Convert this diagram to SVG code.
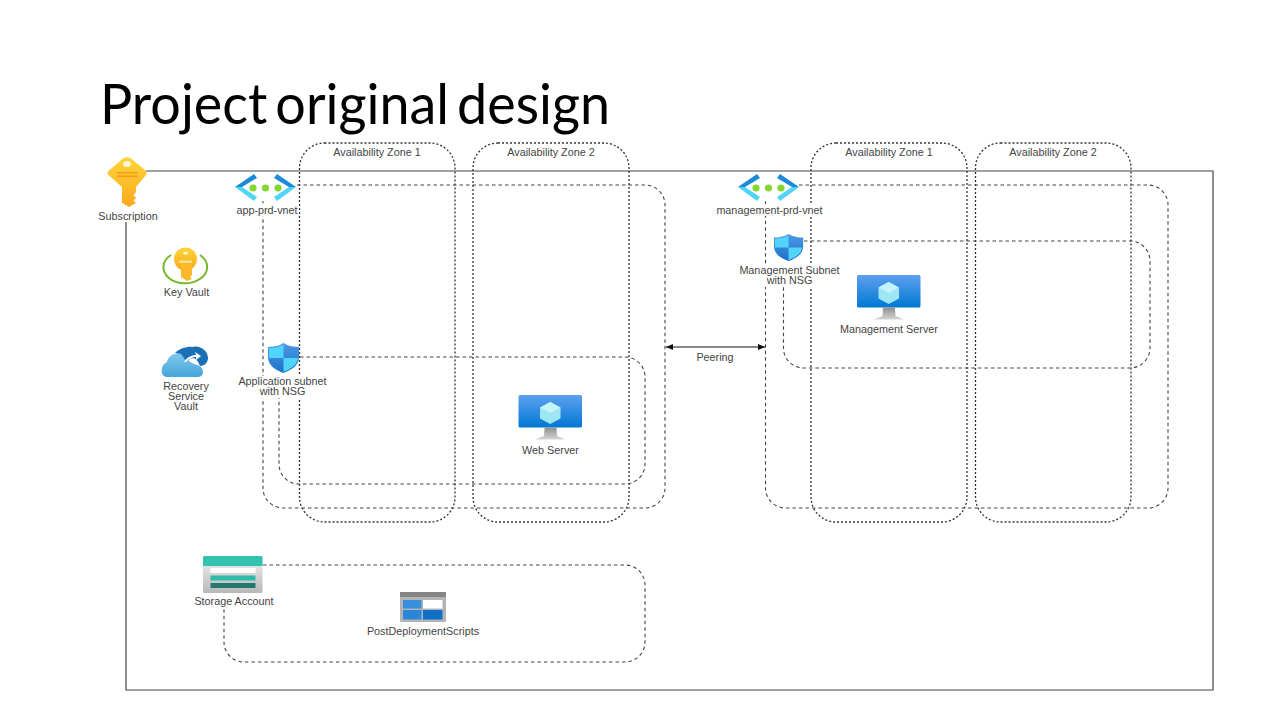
<svg xmlns="http://www.w3.org/2000/svg" width="1280" height="720" viewBox="0 0 1280 720">
<style>
.t{font-family:"Liberation Sans",Arial,sans-serif;font-size:10.8px;fill:#444;text-anchor:middle}
.d{fill:none;stroke:#333;stroke-width:1.300;stroke-dasharray:2 2}
.v{fill:none;stroke:#444;stroke-width:1.100;stroke-dasharray:3.500 3}
.bg{fill:#fff}
</style>
<defs>
<linearGradient id="gold" x1="0" y1="0" x2="0" y2="1"><stop offset="0" stop-color="#fed43a"/><stop offset="1" stop-color="#fba81c"/></linearGradient>
<linearGradient id="mon" x1="0" y1="0" x2="0" y2="1"><stop offset="0" stop-color="#5ea0ef"/><stop offset="1" stop-color="#0078d4"/></linearGradient>
<linearGradient id="stand" x1="0" y1="0" x2="0" y2="1"><stop offset="0" stop-color="#8f8f8f"/><stop offset="1" stop-color="#d5d5d5"/></linearGradient>
<linearGradient id="stor" x1="0" y1="0" x2="0" y2="1"><stop offset="0" stop-color="#f2f2f2"/><stop offset="1" stop-color="#b8b8b8"/></linearGradient>
<linearGradient id="cloud" x1="0" y1="0" x2="0" y2="1"><stop offset="0" stop-color="#7fc8ec"/><stop offset="1" stop-color="#45a5da"/></linearGradient>
<linearGradient id="shield" x1="0" y1="0" x2="0" y2="1"><stop offset="0" stop-color="#4f97e6"/><stop offset="1" stop-color="#1b74c8"/></linearGradient>
<marker id="ah" markerWidth="8" markerHeight="7" refX="7" refY="3.500" orient="auto-start-reverse"><path d="M0 0.500L7 3.500L0 6.500Z" fill="#111"/></marker>
<g id="vnetIcon">
<path d="M0 15L19 2L22 6L7 15Z" fill="#1b8ad8"/>
<path d="M0 15L7 15L22 25L19 29Z" fill="#50d4fb"/>
<path d="M61 15L42 2L39 6L54 15Z" fill="#1b8ad8"/>
<path d="M61 15L54 15L39 25L42 29Z" fill="#50d4fb"/>
<circle cx="18" cy="16" r="3.600" fill="#86d633"/><circle cx="30.500" cy="16" r="3.600" fill="#86d633"/><circle cx="43" cy="16" r="3.600" fill="#86d633"/>
</g>
<g id="shieldIcon">
<path d="M15.500 0C20 3 26 4 31 4L31 14C31 22 24 27 15.500 30C7 27 0 22 0 14L0 4C5 4 11 3 15.500 0Z" fill="url(#shield)"/>
<path d="M15.500 1.500L15.500 15L1 15L1 5C7 5 11 4 15.500 1.500Z" fill="#50d4fb"/>
<path d="M15.500 15L30 15C29 22 23 26 15.500 29Z" fill="#50d4fb"/>
</g>
<g id="vmIcon">
<rect x="0" y="0" width="63.500" height="32.500" rx="1.500" fill="url(#mon)"/>
<path d="M31.700 7L42 12.500L42 23.500L31.700 29L21.500 23.500L21.500 12.500Z" fill="#9fe6f5"/>
<path d="M31.700 7L42 12.500L31.700 18L21.500 12.500Z" fill="#c4f3fb"/>
<path d="M26 32.500L38 32.500L38.500 41L47 44.500L16.500 44.500L25.500 41Z" fill="url(#stand)"/>
</g>
</defs>
<rect class="bg" width="1280" height="720"/>
<text x="100" y="124" font-family="Lato,'Open Sans',sans-serif" font-size="56" word-spacing="-6" fill="#000" textLength="510" lengthAdjust="spacingAndGlyphs">Project original design</text>

<g id="connectors">
<path fill="none" stroke="#444" stroke-width="1.200" d="M146 171H1213V690H126V222"/>
<rect class="d" x="299.500" y="143" width="155.500" height="379" rx="25"/>
<rect class="d" x="473" y="143" width="156" height="379" rx="25"/>
<rect class="d" x="811" y="143" width="156" height="379" rx="25"/>
<rect class="d" x="975.500" y="143" width="155.500" height="379" rx="25"/>
<path class="v" d="M297 185H645a20 20 0 0 1 20 20V488a20 20 0 0 1-20 20H283a20 20 0 0 1-20-20V201"/>
<path class="v" d="M300 357H625a20 20 0 0 1 20 20V464a20 20 0 0 1-20 20H299a20 20 0 0 1-20-20V385"/>
<path class="v" d="M799 185H1148a20 20 0 0 1 20 20V488a20 20 0 0 1-20 20H785.500a20 20 0 0 1-20-20V201"/>
<path class="v" d="M804 241H1130a20 20 0 0 1 20 20V348a20 20 0 0 1-20 20H803.500a20 20 0 0 1-20-20V285"/>
<path class="v" d="M263 565H625a20 20 0 0 1 20 20V642a20 20 0 0 1-20 20H244a20 20 0 0 1-20-20V590"/>
<path stroke="#111" stroke-width="1" fill="none" marker-start="url(#ah)" marker-end="url(#ah)" d="M666 347H765"/>
</g>

<g id="zone-a1"><rect class="bg" x="330" y="146" width="95" height="13"/><text class="t" x="377" y="156">Availability Zone 1</text></g>
<g id="zone-a2"><rect class="bg" x="503" y="146" width="95" height="13"/><text class="t" x="551" y="156">Availability Zone 2</text></g>
<g id="zone-m1"><rect class="bg" x="841" y="146" width="95" height="13"/><text class="t" x="889" y="156">Availability Zone 1</text></g>
<g id="zone-m2"><rect class="bg" x="1005" y="146" width="95" height="13"/><text class="t" x="1053" y="156">Availability Zone 2</text></g>

<g id="subscription">
<path d="M123 158.500Q127 156 131 158.500L145.500 170.500Q148 173 145.500 175.500L136 187V192L133.500 195L136 198L133.500 201L136 203L129 207L122 203V187L109 175.500Q106 173 109 170.500Z" fill="url(#gold)"/>
<ellipse cx="127" cy="164" rx="4" ry="3" fill="#fff6d0"/>
<rect x="117" y="172" width="21" height="1.500" fill="#f59e14"/><rect x="117" y="175.500" width="21" height="1.500" fill="#f59e14"/>
<text class="t" x="128" y="220">Subscription</text>
</g>

<g id="key-vault">
<path d="M171 255A21.500 16 0 0 0 199 279.500A21.500 16 0 0 0 200 255" fill="none" stroke="#76b82a" stroke-width="2"/>
<circle cx="185.500" cy="259" r="11.500" fill="url(#gold)"/>
<path d="M181 264H192V275L190 277L192 279L187 281L181 277Z" fill="#fdb92a"/>
<rect x="179" y="260.500" width="13" height="2.500" rx="1" fill="#ffe58a"/>
<ellipse cx="185.500" cy="253" rx="2.500" ry="1.500" fill="#fff6d0"/>
<text class="t" x="186.500" y="296">Key Vault</text>
</g>

<g id="recovery-vault">
<path d="M167 377C160 377 160 365 167 362C168 355 176 352 181 354C186 357 189 362 194 364C199 365 203 367 203 372C203 376 200 377 197 377Z" fill="url(#cloud)"/>
<path d="M175 353C180 348 188 346 193 347C200 345 208 351 208 358C208 363 204 366 200 366C198 361 196 358 192 358L186 361L181 354Z" fill="#1a6fb5"/>
<path d="M184 362C187 357 192 355 196 355L195 352L201 356L196 360L196 357C192 357 188 359 186 362Z" fill="#fff"/>
<text class="t" x="186" y="390">Recovery</text><text class="t" x="186" y="399.500">Service</text><text class="t" x="186" y="410">Vault</text>
</g>

<g id="app-vnet">
<use href="#vnetIcon" x="235" y="172"/>
<rect class="bg" x="235" y="204" width="64" height="12"/>
<text class="t" x="267" y="213.500">app-prd-vnet</text>
</g>

<g id="app-subnet">
<use href="#shieldIcon" x="268" y="343"/>
<rect class="bg" x="237" y="376" width="91" height="22"/>
<text class="t" x="282.500" y="385">Application subnet</text>
<text class="t" x="282.500" y="395">with NSG</text>
</g>

<g id="web-server">
<use href="#vmIcon" x="518.500" y="395"/>
<text class="t" x="550.500" y="453.500">Web Server</text>
</g>

<g id="mgmt-vnet">
<use href="#vnetIcon" x="738" y="172"/>
<rect class="bg" x="715" y="204" width="110" height="12"/>
<text class="t" x="769.500" y="213.500">management-prd-vnet</text>
</g>

<g id="mgmt-subnet">
<use href="#shieldIcon" transform="translate(774 234) scale(.94 .9)"/>
<rect class="bg" x="738" y="265" width="104" height="22"/>
<text class="t" x="789.500" y="274">Management Subnet</text>
<text class="t" x="789.500" y="284">with NSG</text>
</g>

<g id="mgmt-server">
<use href="#vmIcon" x="857" y="275"/>
<text class="t" x="889" y="332.500">Management Server</text>
</g>

<text class="t" x="715" y="360.500">Peering</text>

<g id="storage-account">
<rect x="203" y="556" width="59.500" height="37" rx="1.500" fill="url(#stor)"/>
<path d="M203 566V557.500a1.500 1.500 0 0 1 1.500-1.500H261a1.500 1.500 0 0 1 1.500 1.500V566Z" fill="#33c2ae"/>
<rect x="210.500" y="568" width="45" height="5" fill="#fff"/>
<rect x="210.500" y="575.500" width="45" height="5" fill="#2fbba8"/>
<rect x="210.500" y="583" width="45" height="5" fill="#24796f"/>
<rect class="bg" x="193" y="596" width="82" height="11"/>
<text class="t" x="234" y="604.500">Storage Account</text>
</g>

<g id="post-deployment-scripts">
<rect x="400" y="592" width="46" height="30" rx="1" fill="#b4b4b4"/>
<rect x="400" y="592" width="46" height="5" fill="#858585"/>
<rect x="403" y="600" width="18.500" height="8.500" fill="#3a8fdd"/>
<rect x="423" y="600" width="19.500" height="8.500" fill="#fff"/>
<rect x="403" y="610" width="18.500" height="9.500" fill="#2a86d8"/>
<rect x="423" y="610" width="19.500" height="9.500" fill="#0f6fc6"/>
<text class="t" x="423" y="634.500">PostDeploymentScripts</text>
</g>
</svg>
